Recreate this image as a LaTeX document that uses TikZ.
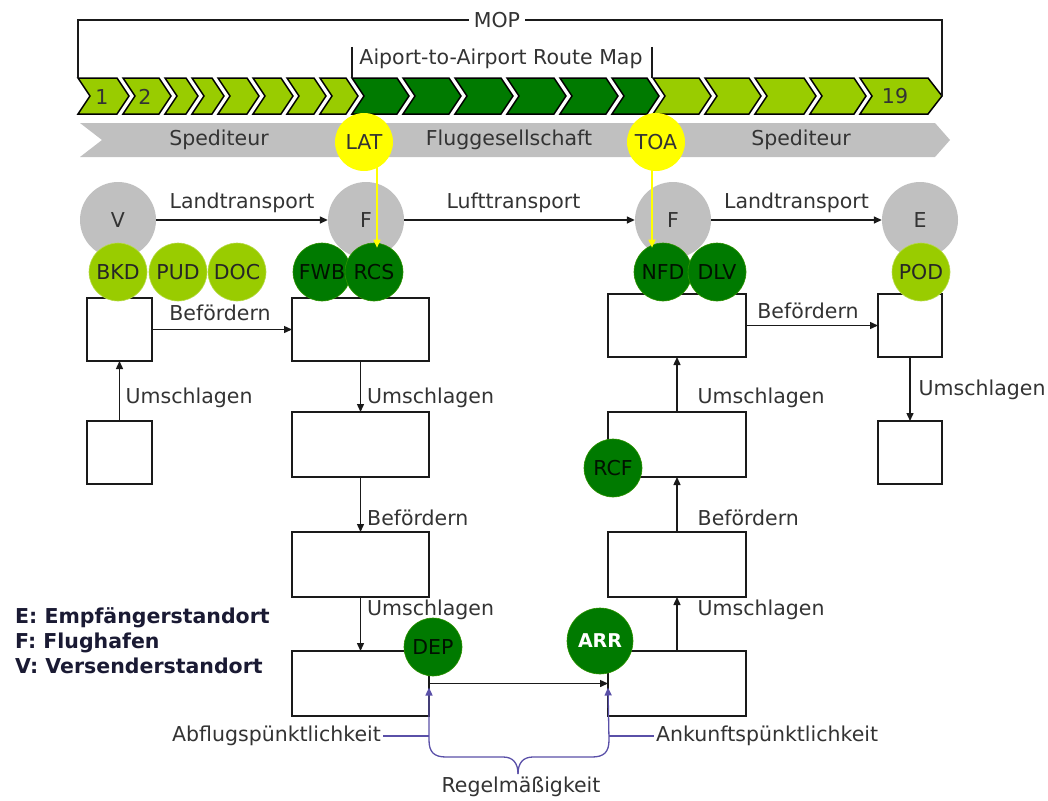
\documentclass[tikz,border=0pt]{standalone}
\usepackage{fontspec}
\setmainfont{DejaVu Sans}
\usetikzlibrary{arrows.meta}
\definecolor{lgreen}{HTML}{99CC00}
\definecolor{dgreen}{HTML}{007A00}
\definecolor{cgrey}{HTML}{C0C0C0}
\definecolor{txt}{HTML}{333333}
\definecolor{pblue}{HTML}{5A50A8}
\definecolor{legendc}{HTML}{1A1A33}
\definecolor{lineblk}{HTML}{1A1A1A}
\definecolor{yel}{HTML}{FFFF00}
\begin{document}
\begin{tikzpicture}[x=1pt,y=-1pt,
  every node/.style={font=\fontsize{20.5}{24}\selectfont, text=txt},
  box/.style={draw=lineblk, line width=1.3pt, inner sep=0pt, outer sep=0pt, fill=white},
  arr/.style={draw=lineblk, line width=1.4pt, -{Triangle[length=8pt,width=7pt]}},
  lbl/.style={inner sep=0pt},
  chevlight/.style={fill=lgreen, draw=black, line width=1.5pt, line join=miter},
  chevdark/.style={fill=dgreen, draw=black, line width=1.5pt, line join=miter},
  bigc/.style={circle, fill=cgrey, inner sep=0pt, minimum size=76pt},
  lc/.style={circle, fill=lgreen, draw=lgreen!70!white, line width=0.6pt, inner sep=0pt, minimum size=58pt, text=black!85},
  dc/.style={circle, fill=dgreen, draw=dgreen!70!lgreen, line width=0.6pt, inner sep=0pt, minimum size=58pt, text=black!85!dgreen},
  yc/.style={circle, fill=yel, inner sep=0pt, minimum size=58pt},
  yarr/.style={draw=yel, line width=1.6pt, -{Triangle[length=8pt,width=7pt]}},
  parr/.style={draw=pblue, line width=1.3pt, -{Triangle[length=8pt,width=7pt]}},
  pline/.style={draw=pblue, line width=1.3pt},
  bracket/.style={draw=lineblk, line width=1.2pt}
]
\useasboundingbox (0,0) rectangle (1048,800);

% grey band
\fill[cgrey] (80,123) -- (935,123) -- (950,140) -- (935,157) -- (80,157) -- (102,140) -- cycle;
\node (sp1) at (219,140) {Spediteur};
\node (flg) at (509,140) {Fluggesellschaft};
\node (sp2) at (801,140) {Spediteur};

% chevrons
\foreach \s/\e in {78/117,123/159,165/186,192/212,218/247,253/281,287/314,320/346,653/699,705/749,755/804,810/854}
  \draw[chevlight] (\s,78) -- (\e,78) -- (\e+12,96) -- (\e,114) -- (\s,114) -- (\s+12,96) -- cycle;
\draw[chevlight] (860,78) -- (928,78) -- (942,96) -- (928,114) -- (860,114) -- (872,96) -- cycle;
\foreach \s/\e in {352/397,403/449,455/501,507/554,560/606,612/647}
  \draw[chevdark] (\s,78) -- (\e,78) -- (\e+12,96) -- (\e,114) -- (\s,114) -- (\s+12,96) -- cycle;
\node (c1) at (102,97) {1};
\node (c2) at (145,97) {2};
\node (c19) at (895,96) {19};

% brackets
\draw[bracket] (78,78) -- (78,20) -- (942,20) -- (942,96);
\node[fill=white, inner sep=5pt] (mop) at (497,20) {MOP};
\draw[bracket] (352,47) -- (352,78);
\draw[bracket] (652,47) -- (652,78);
\node (a2a) at (501,59) {Aiport-to-Airport Route Map};

% boxes
\node[box, minimum width=65pt, minimum height=63pt] (v1) at (119.5,329.5) {};
\node[box, minimum width=65pt, minimum height=63pt] (v0) at (119.5,452.5) {};
\node[box, minimum width=137pt, minimum height=63pt] (f1a) at (360.5,329.5) {};
\node[box, minimum width=137pt, minimum height=65pt] (f1b) at (360.5,444.5) {};
\node[box, minimum width=137pt, minimum height=65pt] (f1c) at (360.5,564.5) {};
\node[box, minimum width=137pt, minimum height=65pt] (f1d) at (360.5,683.5) {};
\node[box, minimum width=138pt, minimum height=63pt] (f2a) at (677,325.5) {};
\node[box, minimum width=138pt, minimum height=65pt] (f2b) at (677,444.5) {};
\node[box, minimum width=138pt, minimum height=65pt] (f2c) at (677,564.5) {};
\node[box, minimum width=138pt, minimum height=65pt] (f2d) at (677,683.5) {};
\node[box, minimum width=64pt, minimum height=63pt] (e1) at (910,325.5) {};
\node[box, minimum width=64pt, minimum height=63pt] (e0) at (910,452.5) {};

% big circles
\node[bigc] (V) at (118,220) {V};
\node[bigc] (F1) at (366,220) {F};
\node[bigc] (F2) at (673,220) {F};
\node[bigc] (E) at (920,220) {E};

% transport arrows
\draw[arr] (V) -- node[lbl, yshift=17pt] {Landtransport} (F1);
\draw[arr] (F1) -- node[lbl, yshift=17pt, xshift=-6pt] {Lufttransport} (F2);
\draw[arr] (F2) -- node[lbl, yshift=17pt] {Landtransport} (E);

% process arrows
\draw[arr] (v0.north) -- node[lbl, pos=0.38, anchor=west, xshift=5.5pt] {Umschlagen} (v1.south);
\draw[arr] (v1.east) -- node[lbl, yshift=16.5pt, xshift=-2pt] {Befördern} (f1a.west);
\draw[arr] (f1a.south) -- node[lbl, pos=0.73, anchor=west, xshift=6pt] {Umschlagen} (f1b.north);
\draw[arr] (f1b.south) -- node[lbl, pos=0.75, anchor=west, xshift=6pt] {Befördern} (f1c.north);
\draw[arr] (f1c.south) -- node[lbl, pos=0.24, anchor=west, xshift=6pt] {Umschlagen} (f1d.north);
\draw[arr] (f1d.east) -- (f2d.west);
\draw[arr] (f2d.north) -- node[lbl, pos=0.76, anchor=west, xshift=20pt] {Umschlagen} (f2c.south);
\draw[arr] (f2c.north) -- node[lbl, pos=0.25, anchor=west, xshift=20pt] {Befördern} (f2b.south);
\draw[arr] (f2b.north) -- node[lbl, pos=0.25, anchor=west, xshift=20pt] {Umschlagen} (f2a.south);
\draw[arr] (f2a.east) -- node[lbl, yshift=14.5pt, xshift=-4pt] {Befördern} (e1.west);
\draw[arr] (e1.south) -- node[lbl, pos=0.52, anchor=west, xshift=8pt] {Umschlagen} (e0.north);

% small circles
\node[lc] (bkd) at (118,272) {BKD};
\node[lc] (pud) at (178,272) {PUD};
\node[lc] (doc) at (237,272) {DOC};
\node[dc] (fwb) at (322,272) {FWB};
\node[dc] (rcs) at (374,272) {RCS};
\node[dc] (nfd) at (663,272) {NFD};
\node[dc] (dlv) at (717,272) {DLV};
\node[lc] (pod) at (921,272) {POD};
\node[dc] (rcf) at (613,468) {RCF};
\node[dc] (dep) at (433,647) {DEP};
\node[dc, minimum size=66pt, text=white, font=\bfseries\fontsize{19}{24}\selectfont] (arrc) at (600,641) {ARR};

% LAT / TOA
\draw[yarr] ([xshift=13pt]364,142) -- ([xshift=3pt,yshift=-5pt]rcs.north);
\draw[yarr] ([xshift=-4pt]656,142) -- ([xshift=-11pt,yshift=-5pt]nfd.north);
\node[yc] (lat) at (364,142) {LAT};
\node[yc] (toa) at (656,142) {TOA};

% legend
\node[anchor=west, align=left, inner sep=0pt, text=legendc, font=\bfseries\fontsize{20.5}{25}\selectfont] (legend) at (15,641) {E: Empfängerstandort\\F: Flughafen\\V: Versenderstandort};

% punctuality / regularity
\coordinate (depin) at ([yshift=-4pt]f1d.east);
\coordinate (arrin) at ([yshift=-4pt]f2d.west);
\coordinate (btip) at (518,774);
\coordinate (bl) at (429,736);
\coordinate (br) at (609,736);
\draw[parr] (btip) .. controls (518,763) and (513,757) .. (503,757) -- (446,757) .. controls (434,757) and (429,752) .. (429,740) -- (depin);
\draw[parr] (btip) .. controls (518,763) and (523,757) .. (533,757) -- (592,757) .. controls (604,757) and (609,752) .. (609,740) -- (arrin);
\node[anchor=east, inner sep=0pt] (abf) at (381,736) {Abflugspünktlichkeit};
\node[anchor=west, inner sep=0pt] (ank) at (656,736) {Ankunftspünktlichkeit};
\draw[pline] (abf.east) ++(2pt,0) -- (bl);
\draw[pline] (br) -- ([xshift=-2pt]ank.west);
\node (reg) at (521,787) {Regelmäßigkeit};
\end{tikzpicture}
\end{document}
